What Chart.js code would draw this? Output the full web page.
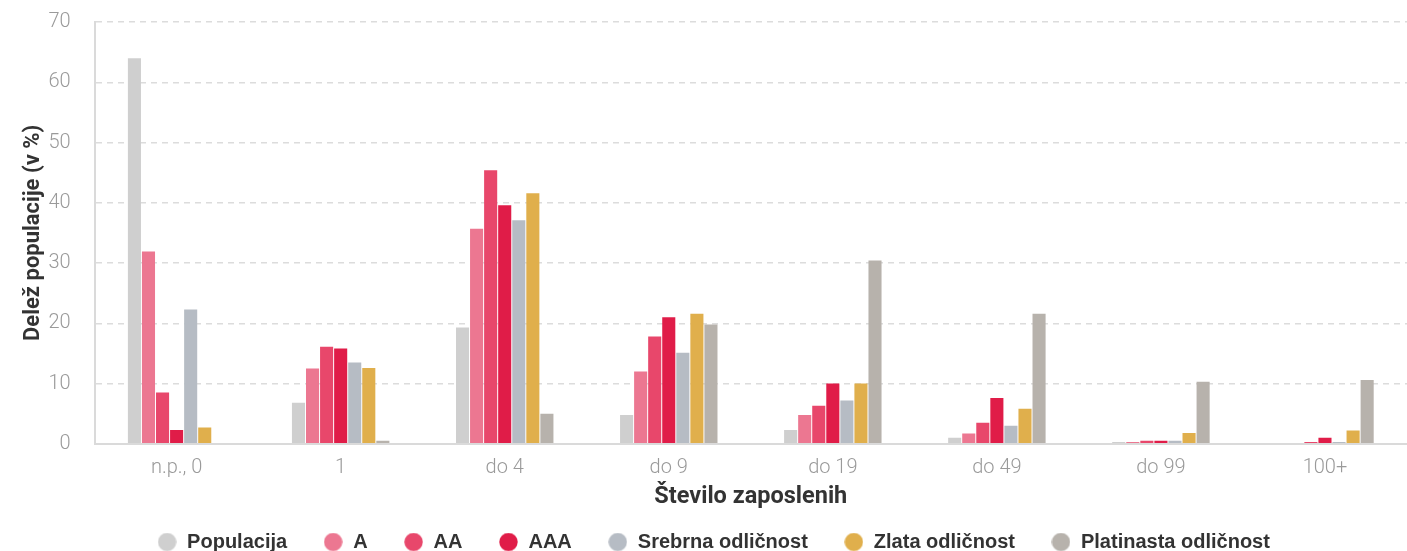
<!DOCTYPE html>
<html>
<head>
<meta charset="utf-8">
<script src="https://cdn.jsdelivr.net/npm/chart.js@4"></script>
<style>
  html, body { margin: 0; padding: 0; background: #fff; }
  #wrap { width: 1407px; height: 551px; }
</style>
</head>
<body>
<div id="wrap"><canvas id="chart"></canvas></div>
<script>
// categories (število zaposlenih)
const categories = ['n.p., 0', '1', 'do 4', 'do 9', 'do 19', 'do 49', 'do 99', '100+'];

// deleži populacije v %
const populacija = [64.0, 6.8, 19.3, 4.8, 2.3, 1.0, 0.3, 0];
const bonitetaA   = [31.9, 12.5, 35.7, 12.0, 4.8, 1.7, 0.3, 0];
const bonitetaAA  = [8.5, 16.1, 45.4, 17.8, 6.3, 3.5, 0.5, 0.3];
const bonitetaAAA = [2.3, 15.8, 39.6, 21.0, 10.0, 7.6, 0.5, 1.0];
const srebrna     = [22.3, 13.5, 37.1, 15.1, 7.2, 3.0, 0.5, 0.3];
const zlata       = [2.7, 12.6, 41.6, 21.6, 10.0, 5.8, 1.8, 2.2];
const platinasta  = [0, 0.5, 5.0, 19.8, 30.4, 21.6, 10.3, 10.6];

const yTicks = [0, 10, 20, 30, 40, 50, 60, 70];

const SERIES = [
  { label: 'Populacija',           data: populacija,  color: '#cfcfcf' },
  { label: 'A',                    data: bonitetaA,   color: '#ec7791' },
  { label: 'AA',                   data: bonitetaAA,  color: '#e8476b' },
  { label: 'AAA',                  data: bonitetaAAA, color: '#e01c48' },
  { label: 'Srebrna odličnost',    data: srebrna,     color: '#b6bcc4' },
  { label: 'Zlata odličnost',      data: zlata,       color: '#e0af4c' },
  { label: 'Platinasta odličnost', data: platinasta,  color: '#b7b2ac' },
];

const TICK_FONT = { family: 'Roboto', size: 20, weight: '300' };

// round legend marker, drawn as an image so the text can sit further away
function dot(color) {
  const c = document.createElement('canvas');
  c.width = 19; c.height = 19;
  const g = c.getContext('2d');
  g.fillStyle = color;
  g.beginPath();
  g.arc(9.5, 9.5, 9.2, 0, Math.PI * 2);
  g.fill();
  return c;
}

// legend row sits lower than Chart.js would put it
const legendLift = {
  id: 'legendLift',
  afterInit(chart) {
    const fit = chart.legend.fit;
    chart.legend.fit = function () {
      fit.call(this);
      this.height -= 11;
    };
  },
};

new Chart(document.getElementById('chart'), {
  type: 'bar',
  data: {
    labels: categories,
    datasets: SERIES.map(s => ({
      label: s.label,
      data: s.data,
      backgroundColor: s.color,
      pointStyle: dot(s.color),
      borderWidth: 0,
      barPercentage: 0.93,
      categoryPercentage: 0.6,
    })),
  },
  plugins: [legendLift],
  options: {
    responsive: true,
    maintainAspectRatio: false,
    animation: false,
    layout: { padding: { top: 22, right: 0, bottom: 0, left: 20 } },
    scales: {
      x: {
        grid: { display: false, drawTicks: false },
        border: { display: true, color: '#dadada', width: 2 },
        ticks: { color: '#9a9a9a', font: TICK_FONT, padding: 12 },
        title: {
          display: true, text: 'Število zaposlenih', color: '#333',
          font: { family: 'Roboto', size: 23.5, weight: 'bold' },
          padding: { top: -9, bottom: -15 },
        },
      },
      y: {
        min: 0,
        max: 70,
        afterBuildTicks: axis => { axis.ticks = yTicks.map(v => ({ value: v })); },
        grid: {
          drawTicks: true,
          tickLength: 22,
          tickColor: 'rgba(0,0,0,0)',
          color: ctx => ctx.tick && ctx.tick.value === 0 ? 'rgba(0,0,0,0)' : '#dcdcdc',
          lineWidth: 1.5,
        },
        border: { display: true, color: '#dadada', width: 2, dash: [6, 5] },
        ticks: { color: '#9a9a9a', font: TICK_FONT, padding: 2 },
        title: {
          display: true, text: 'Delež populacije (v %)', color: '#333',
          font: { family: 'Roboto', size: 22, weight: 'bold' },
          padding: { top: 0, bottom: 0 },
        },
      },
    },
    plugins: {
      legend: {
        position: 'bottom',
        labels: {
          color: '#333',
          usePointStyle: true,
          pointStyleWidth: 20,
          boxHeight: 13,
          padding: 36,
          font: { family: 'Liberation Sans', size: 20, weight: 'bold' },
        },
      },
      tooltip: { enabled: false },
    },
  },
});
</script>
</body>
</html>
